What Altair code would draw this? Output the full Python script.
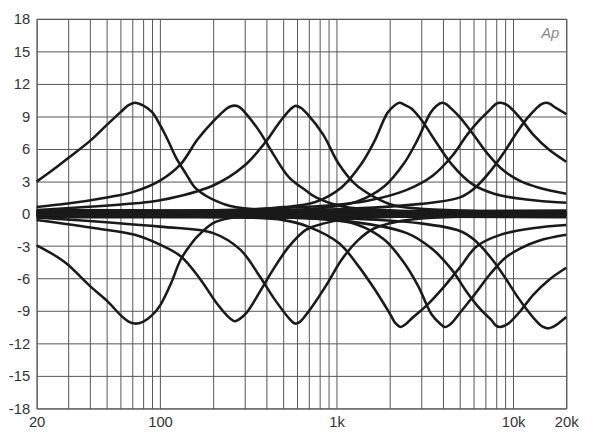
import altair as alt
import pandas as pd

# ---- data (frequency in Hz, level in dB) ----
b1_f = [20, 25, 30, 40, 50, 60, 66, 72, 80, 90, 100, 110, 123, 140, 157, 180, 200, 250, 300, 400, 600, 1000, 3000, 20000]
b1_d = [2.96, 4.1, 5.1, 6.7, 8.2, 9.4, 10.0, 10.25, 10.0, 9.4, 8.2, 6.9, 5.2, 3.7, 2.45, 1.7, 1.3, 0.7, 0.5, 0.35, 0.25, 0.2, 0.15, 0.1]
c1_f = [20, 25, 30, 40, 50, 60, 66, 72, 80, 90, 100, 115, 131, 150, 163, 200, 250, 300, 400, 600, 1000, 3000, 20000]
c1_d = [-2.93, -3.8, -4.7, -6.67, -8.04, -9.4, -9.95, -10.16, -10.0, -9.4, -8.5, -6.5, -4.24, -2.8, -2.1, -0.87, -0.4, -0.3, -0.25, -0.2, -0.15, -0.12, -0.1]

b2_f = [20, 30, 50, 70, 100, 131, 163, 200, 240, 250, 265, 282, 300, 366, 438, 538, 670, 760, 1070, 1500, 2500, 5000, 20000]
b2_d = [0.62, 0.93, 1.5, 1.99, 3.05, 4.57, 6.85, 8.52, 9.74, 9.9, 9.98, 9.85, 9.43, 7.6, 5.5, 3.35, 2.14, 1.53, 0.68, 0.4, 0.25, 0.15, 0.1]
c2_f = [20, 43, 72, 100, 131, 169, 210, 250, 265, 282, 311, 366, 438, 538, 670, 850, 1100, 2000, 5000, 20000]
c2_d = [-0.59, -1.35, -1.96, -2.87, -3.94, -6.06, -8.3, -9.7, -9.95, -9.75, -9.1, -7.27, -5.15, -3.03, -1.5, -0.9, -0.55, -0.3, -0.15, -0.1]

b3_f = [20, 70, 100, 200, 300, 400, 450, 500, 545, 582, 625, 690, 840, 1030, 1270, 1640, 2100, 3000, 6000, 20000]
b3_d = [0.32, 0.93, 1.23, 2.6, 4.42, 6.7, 7.9, 8.9, 9.6, 9.95, 9.8, 9.13, 7.3, 4.58, 2.75, 1.53, 0.77, 0.45, 0.25, 0.15]
c3_f = [20, 100, 200, 285, 366, 445, 540, 582, 620, 690, 870, 1070, 1330, 1640, 2200, 3000, 6000, 20000]
c3_d = [-0.35, -1.2, -1.8, -3.33, -5.76, -7.9, -9.7, -10.16, -10.0, -9.1, -6.67, -4.24, -2.42, -1.35, -0.75, -0.45, -0.25, -0.15]

b4_f = [20, 100, 300, 500, 760, 1070, 1380, 1640, 1940, 2130, 2274, 2430, 2640, 3020, 3580, 4480, 5850, 7800, 11900, 20000]
b4_d = [0.1, 0.2, 0.35, 0.6, 1.08, 2.44, 4.58, 6.7, 9.3, 10.0, 10.25, 10.05, 9.74, 8.68, 6.85, 4.58, 2.75, 1.84, 1.3, 1.0]
c4_f = [20, 100, 300, 500, 690, 1030, 1330, 1640, 2030, 2150, 2300, 2470, 2700, 3230, 4100, 5060, 6200, 8450, 12900, 20000]
c4_d = [-0.1, -0.2, -0.35, -0.6, -1.2, -2.72, -4.85, -6.97, -9.4, -10.1, -10.47, -10.2, -9.6, -8.5, -6.67, -4.85, -3.03, -1.96, -1.35, -1.05]

b5_f = [20, 300, 800, 1300, 1860, 2400, 2850, 3400, 3700, 3954, 4200, 4400, 5000, 5900, 7200, 8800, 11000, 14000, 20000]
b5_d = [0.1, 0.3, 0.5, 1.1, 2.5, 4.6, 6.7, 9.3, 10.0, 10.25, 10.1, 9.8, 8.9, 7.4, 5.5, 4.0, 3.0, 2.4, 1.84]
c5_f = [20, 300, 800, 1300, 1860, 2400, 2900, 3450, 3850, 4100, 4350, 4550, 5150, 6100, 7400, 9000, 11000, 14000, 20000]
c5_d = [-0.1, -0.3, -0.5, -1.0, -2.4, -4.5, -6.7, -9.3, -10.15, -10.47, -10.3, -10.0, -8.9, -7.4, -5.6, -4.1, -3.2, -2.5, -1.96]

b6_f = [20, 200, 800, 1500, 2500, 3500, 4500, 5500, 6500, 7500, 8000, 8450, 8950, 9500, 11000, 13000, 16000, 20000]
b6_d = [0.1, 0.3, 0.7, 1.2, 2.2, 3.5, 5.3, 7.3, 8.7, 9.7, 10.15, 10.25, 10.15, 9.9, 8.8, 7.3, 5.9, 4.8]
c6_f = [20, 200, 1000, 2500, 3500, 4500, 5500, 6500, 7500, 8000, 8450, 8950, 9500, 11000, 13000, 16000, 20000]
c6_d = [-0.1, -0.3, -0.6, -1.8, -3.3, -5.2, -7.3, -8.8, -9.8, -10.35, -10.47, -10.35, -10.1, -9.0, -7.5, -6.1, -5.0]

b7_f = [20, 1000, 3000, 5000, 6000, 7500, 9000, 10500, 12000, 13500, 14400, 15300, 16200, 17000, 20000]
b7_d = [0.1, 0.4, 0.9, 1.5, 2.3, 4.0, 5.8, 7.5, 8.8, 9.7, 10.1, 10.25, 10.15, 9.9, 9.2]
c7_f = [20, 1000, 3000, 5000, 6000, 7500, 9000, 10500, 12000, 13500, 14700, 15700, 16600, 17500, 20000]
c7_d = [-0.1, -0.4, -0.9, -1.6, -2.4, -4.1, -5.9, -7.6, -8.9, -9.9, -10.45, -10.6, -10.5, -10.3, -9.55]

# flat (0 dB) responses forming the thick band
flat_f = [20, 200, 2000, 20000]
flat_a = [0.3, 0.25, 0.2, 0.25]
flat_b = [0.15, 0.1, 0.05, 0.1]
flat_c = [0.0, -0.05, 0.0, -0.05]
flat_d = [-0.15, -0.2, -0.15, -0.2]
flat_e = [-0.3, -0.3, -0.25, -0.3]

x_grid = [20, 30, 40, 50, 60, 70, 80, 90, 100, 200, 300, 400, 500, 600, 700, 800, 900,
          1000, 2000, 3000, 4000, 5000, 6000, 7000, 8000, 9000, 10000, 20000]
y_ticks = list(range(-18, 19, 3))

curves = {
    "b1": (b1_f, b1_d), "c1": (c1_f, c1_d),
    "b2": (b2_f, b2_d), "c2": (c2_f, c2_d),
    "b3": (b3_f, b3_d), "c3": (c3_f, c3_d),
    "b4": (b4_f, b4_d), "c4": (c4_f, c4_d),
    "b5": (b5_f, b5_d), "c5": (c5_f, c5_d),
    "b6": (b6_f, b6_d), "c6": (c6_f, c6_d),
    "b7": (b7_f, b7_d), "c7": (c7_f, c7_d),
}
flats = {"fa": flat_a, "fb": flat_b, "fc": flat_c, "fd": flat_d, "fe": flat_e}

rows = []
for name, (fs, ds) in curves.items():
    for f, d in zip(fs, ds):
        rows.append({"f": f, "db": d, "curve": name})
df = pd.DataFrame(rows)

frows = []
for name, ds in flats.items():
    for f, d in zip(flat_f, ds):
        frows.append({"f": f, "db": d, "curve": name})
dff = pd.DataFrame(frows)

x_label_expr = ("datum.value == 20 ? '20' : datum.value == 100 ? '100' : datum.value == 1000 ? '1k' : "
                "datum.value == 10000 ? '10k' : datum.value == 20000 ? '20k' : ''")
y_label_expr = "datum.value < 0 ? '-' + abs(datum.value) : '' + datum.value"

xenc = alt.X("f:Q", scale=alt.Scale(type="log", domain=[20, 20000], nice=False),
             axis=alt.Axis(values=x_grid, labelExpr=x_label_expr, title=None, ticks=False,
                           domain=False, grid=True, gridColor="#555555", gridWidth=1,
                           labelFont="Liberation Sans", labelFontSize=15, labelColor="#333333",
                           labelPadding=6, labelFlush=False, labelOverlap=False))
yenc = alt.Y("db:Q", scale=alt.Scale(domain=[-18, 18], nice=False, zero=False),
             axis=alt.Axis(values=y_ticks, labelExpr=y_label_expr, title=None, ticks=False,
                           domain=False, grid=True, gridColor="#555555", gridWidth=1,
                           labelFont="Liberation Sans", labelFontSize=15, labelColor="#333333",
                           labelPadding=7, labelOverlap=False, labelFlush=False))

flat_layer = alt.Chart(dff).mark_line(interpolate="monotone", strokeWidth=3.2, color="#1a1a1a").encode(
    x=xenc, y=yenc, detail="curve:N")
curve_layer = alt.Chart(df).mark_line(interpolate="catmull-rom", strokeWidth=2.6, color="#1a1a1a").encode(
    x=xenc, y=yenc, detail="curve:N")

logo = alt.Chart(pd.DataFrame({"t": ["Ap"]})).mark_text(
    font="Liberation Sans", fontSize=15, fontStyle="italic", color="#888888", align="right", baseline="middle"
).encode(x=alt.value(530), y=alt.value(14), text="t:N")

chart = alt.layer(flat_layer, curve_layer, logo).properties(
    width=537, height=395,
    padding={"left": 29, "top": 8, "right": 19, "bottom": 28},
    autosize="none",
).configure_view(stroke="#555555", strokeWidth=1)

chart.save("out.html", embed_options={"renderer": "svg", "actions": False})
